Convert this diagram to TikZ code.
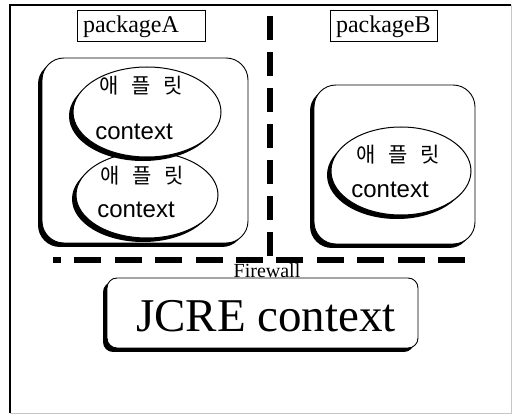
\documentclass[tikz,border=0pt]{standalone}
\usepackage{fontspec}
\setmainfont{Liberation Serif}
\newfontfamily\sansf{Liberation Sans}
\newfontfamily\kor{Noto Sans CJK KR}
\usetikzlibrary{shapes.geometric,shadows}

\begin{document}
\begin{tikzpicture}[x=1pt,y=-1pt,
  every node/.style={inner sep=0pt, outer sep=0pt},
  shadowed/.style={drop shadow={shadow xshift=-4pt,shadow yshift=-4pt,fill=black,opacity=1}},
  pkgbox/.style={draw, line width=0.7pt, minimum height=31pt},
  pkgtext/.style={font=\fontsize{24}{26}\selectfont, anchor=base west},
  roundbox/.style={draw, fill=white, line width=0.9pt, rounded corners=22pt, shadowed},
  applet/.style={ellipse, draw, fill=white, line width=1pt, shadowed},
  kortext/.style={font=\kor\fontsize{21}{22}\selectfont},
  ctxtext/.style={font=\sansf\fontsize{24}{24}\selectfont, anchor=base},
  wall/.style={line width=6pt, dash pattern=on 27pt off 13.4pt},
]
\useasboundingbox (0,0) rectangle (523,417);

% outer frame
\draw[line width=1.5pt] (10,413) -- (10,5) -- (511,5);
\draw[gray!45, line width=0.8pt] (511,5) -- (511,413) -- (10,413);

% package labels
\node[pkgbox, minimum width=128pt] (pkgA) at (141,25.5) {};
\node[pkgtext] (pkgAtext) at (83,33) {packageA};
\node[pkgbox, minimum width=107pt] (pkgB) at (383.5,25.5) {};
\node[pkgtext] (pkgBtext) at (336,33) {packageB};

% package A with two applet contexts
\node[roundbox, minimum width=206pt, minimum height=185pt] (boxA) at (145,150.5) {};
\node[applet, minimum width=142pt, minimum height=86pt] (appA2) at (147,195) {};
\node[applet, minimum width=148pt, minimum height=90pt] (appA1) at (147,112) {};
\node[kortext] (korA1) at (141,86) {애\hspace{13pt}플\hspace{13pt}릿};
\node[ctxtext] (ctxA1) at (134,140) {context};
\node[kortext] (korA2) at (142,176) {애\hspace{13pt}플\hspace{13pt}릿};
\node[ctxtext] (ctxA2) at (136,218) {context};

% package B with one applet context
\node[roundbox, minimum width=161pt, minimum height=159pt] (boxB) at (394.5,164.5) {};
\node[applet, minimum width=140pt, minimum height=88pt] (appB) at (401,171) {};
\node[kortext] (korB) at (398,155) {애\hspace{13pt}플\hspace{13pt}릿};
\node[ctxtext] (ctxB) at (390,198) {context};

% firewalls
\coordinate (vtop) at (270,8);
\coordinate (vbot) at (270,256);
\draw[wall, dash pattern=on 24pt off 12pt] (vbot) -- (vtop);
\coordinate (hleft) at (53,260);
\coordinate (hright) at (465,260);
\draw[wall] (hright) -- (hleft);
\node[font=\fontsize{20}{20}\selectfont, anchor=base] (fw) at (267,278) {Firewall};

% runtime environment
\node[roundbox, rounded corners=10pt, minimum width=311pt, minimum height=70pt] (jcre) at (262.5,313) {};
\node[font=\fontsize{47}{48}\selectfont, anchor=base] (jcretext) at (266,332) {JCRE context};
\end{tikzpicture}
\end{document}
